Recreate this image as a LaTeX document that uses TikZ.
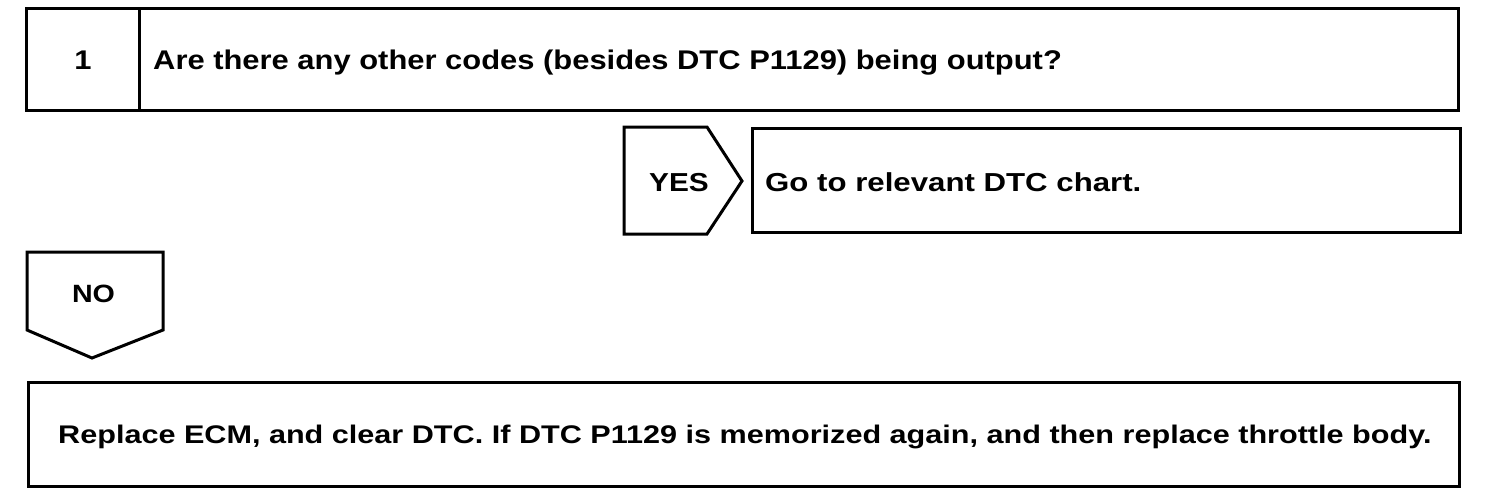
\documentclass[tikz,border=0pt]{standalone}
\usepackage{fontspec}
\setmainfont{Liberation Sans}
\newfontfamily\fa{Liberation Sans Bold}[FakeStretch=1.145]
\newfontfamily\fb{Liberation Sans Bold}[FakeStretch=1.2]
\begin{document}
\begin{tikzpicture}[x=1pt,y=-1pt,
  box/.style={draw,line width=3pt,line join=miter},
  txta/.style={font=\fa\fontsize{27}{30}\selectfont,inner sep=0pt},
  txtb/.style={font=\fb\fontsize{25.5}{30}\selectfont,inner sep=0pt}]
\useasboundingbox[fill=white] (0,0) rectangle (1504,498);
% step 1 box
\draw[box] (26,8) rectangle (1458,110);
\draw[box] (139,8) -- (139,110);
\node[txta,anchor=base] (num) at (83,69) {1};
\node[txta,anchor=base west] (q) at (153,69) {Are there any other codes (besides DTC P1129) being output?};
% YES arrow
\draw[box] (624,127) -- (707,127) -- (742,181) -- (707,234) -- (624,234) -- cycle;
\node[txta,font=\fa\fontsize{26}{30}\selectfont,anchor=base] (yes) at (679,191) {YES};
% yes box
\draw[box] (752,128) rectangle (1460,232);
\node[txtb,font=\fb\fontsize{26}{30}\selectfont,anchor=base west] (goto) at (765,191) {Go to relevant DTC chart.};
% NO arrow
\draw[box] (27,252) -- (163,252) -- (163,330) -- (92,358) -- (27,330) -- cycle;
\node[txta,font=\fa\fontsize{25}{30}\selectfont,anchor=base] (no) at (93.5,302) {NO};
% bottom box
\draw[box] (28,382) rectangle (1459,486);
\node[txtb,anchor=base west] (rep) at (58,443) {Replace ECM, and clear DTC. If DTC P1129 is memorized again, and then replace throttle body.};
\end{tikzpicture}
\end{document}
